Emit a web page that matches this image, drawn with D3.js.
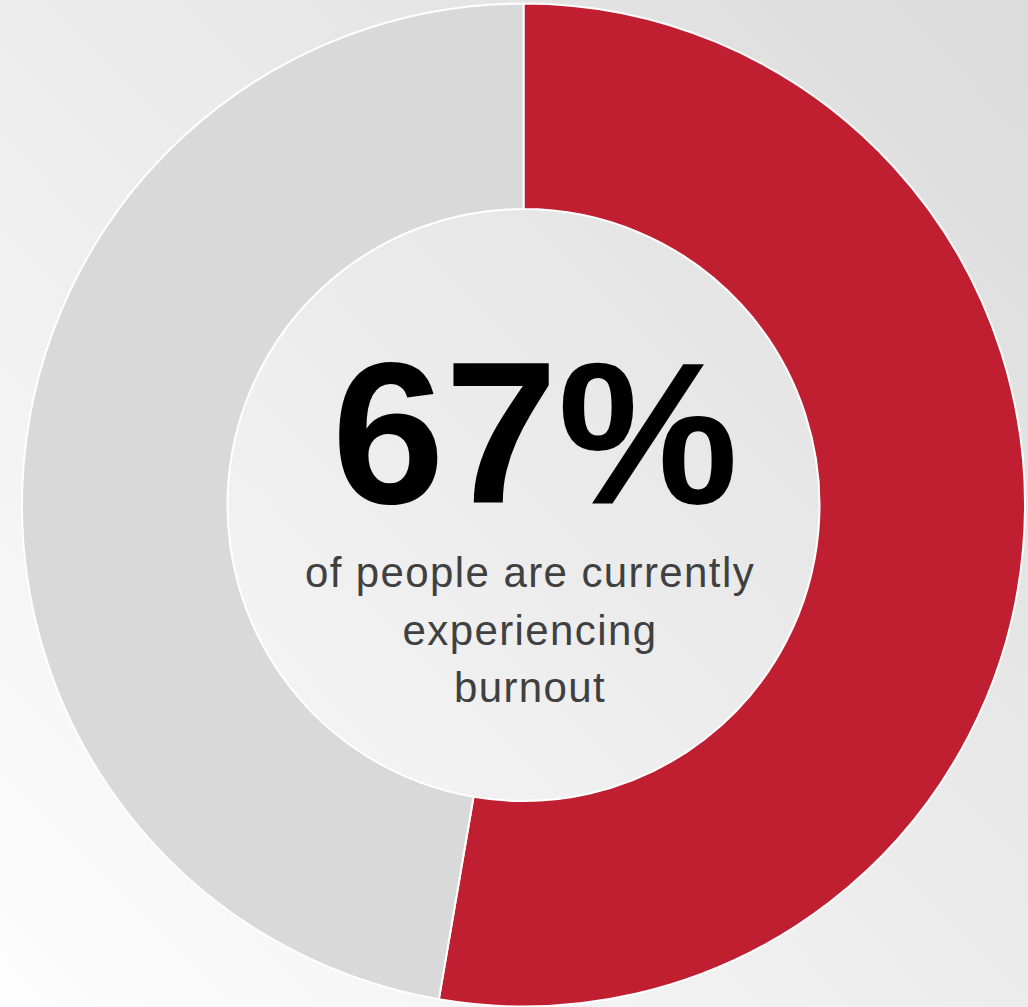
<!DOCTYPE html>
<html lang="en">
<head>
    <meta charset="UTF-8">
    <title>Burnout donut</title>
    <script src="https://d3js.org/d3.v7.min.js"></script>
    <style>
        html, body { margin: 0; padding: 0; overflow: hidden; }
        svg { display: block; }
    </style>
</head>
<body>
<div id="chart"></div>

<script>
    // slice values (red share ends just past 6 o'clock)
    const categories = ["Burnout", "Other"];
    const values = [52.7, 47.3];
    const colors = ["#c01f32", "#d9d9d9"];

    const headline = "67%";
    const captionLines = ["of people are currently", "experiencing", "burnout"];

    const width = 1028;
    const height = 1007;
    const cx = 523.5, cy = 505;
    const outerR = 501.5, innerR = 296;

    const svg = d3.select("#chart")
        .append("svg")
        .attr("width", width)
        .attr("height", height);

    // soft grey background, lighter bottom-left
    const grad = svg.append("defs").append("linearGradient")
        .attr("id", "bg")
        .attr("gradientUnits", "userSpaceOnUse")
        .attr("x1", 0).attr("y1", height)
        .attr("x2", width).attr("y2", 0);
    grad.append("stop").attr("offset", "0%").attr("stop-color", "#fdfdfd");
    grad.append("stop").attr("offset", "100%").attr("stop-color", "#dbdbdb");

    svg.append("rect")
        .attr("width", width)
        .attr("height", height)
        .attr("fill", "url(#bg)");

    const pie = d3.pie().sort(null).value(d => d.value);
    const arc = d3.arc().innerRadius(innerR).outerRadius(outerR);

    const data = categories.map((c, i) => ({ name: c, value: values[i], color: colors[i] }));

    const g = svg.append("g").attr("transform", `translate(${cx},${cy})`);

    g.selectAll("path")
        .data(pie(data))
        .enter().append("path")
        .attr("d", arc)
        .attr("fill", d => d.data.color)
        .attr("stroke", "#ffffff")
        .attr("stroke-width", 2);

    // center label
    const tx = 530;
    svg.append("text")
        .attr("x", tx + 5)
        .attr("y", 503)
        .attr("text-anchor", "middle")
        .attr("font-family", "Liberation Sans, Arial, sans-serif")
        .attr("font-weight", "bold")
        .attr("font-size", 203)
        .attr("fill", "#000000")
        .text(headline);

    svg.append("g")
        .selectAll("text")
        .data(captionLines)
        .enter().append("text")
        .attr("x", tx)
        .attr("y", (d, i) => 587 + i * 57.5)
        .attr("text-anchor", "middle")
        .attr("font-family", "Liberation Sans, Arial, sans-serif")
        .attr("font-size", 42)
        .attr("letter-spacing", 1.4)
        .attr("fill", "#404040")
        .text(d => d);
</script>
</body>
</html>
